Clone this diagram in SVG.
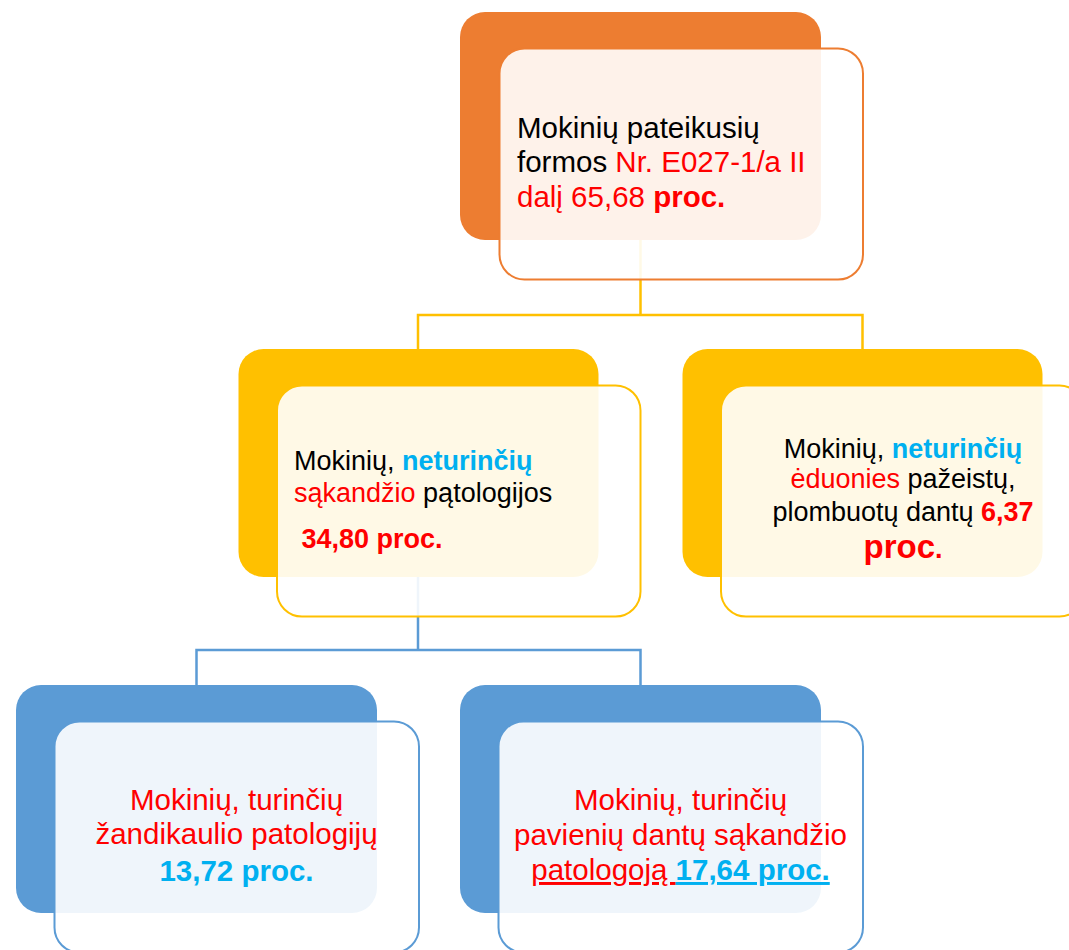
<svg xmlns="http://www.w3.org/2000/svg" width="1069" height="950" viewBox="0 0 1069 950">
<style>
text{font-family:"Liberation Sans",Arial,sans-serif;}
.t32{font-size:29.5px;}
.t29{font-size:27px;}
.k{fill:#000000;}
.r{fill:#FF0000;}
.b{fill:#00B0F0;}
.bd{font-weight:bold;}
.front{fill:#FFFFFF;fill-opacity:0.9;stroke-width:2;}
.con{fill:none;stroke-width:2.5;}
</style>
<rect width="1069" height="950" fill="#FFFFFF"/>
<g id="connectors">
<polyline class="con" stroke="#FFC000" points="640.5,200 640.5,315"/>
<polyline class="con" stroke="#FFC000" points="418,349 418,315 862.5,315 862.5,349"/>
<polyline class="con" stroke="#5B9BD5" points="418,560 418,650"/>
<polyline class="con" stroke="#5B9BD5" points="196.5,685 196.5,650 640.5,650 640.5,685"/>
</g>
<g id="node-top">
<rect x="460" y="12" width="361" height="228" rx="25" fill="#ED7D31"/>
<rect class="front" x="499.5" y="48.5" width="363.5" height="231" rx="25" stroke="#ED7D31"/>
<text class="t32" x="517" y="137.5"><tspan class="k">Mokinių pateikusių</tspan></text>
<text class="t32" x="517" y="172"><tspan class="k">formos </tspan><tspan class="r">Nr. E027-1/a II</tspan></text>
<text class="t32" x="517" y="207"><tspan class="r">dalį 65,68 </tspan><tspan class="r bd">proc.</tspan></text>
</g>
<g id="node-mid-left">
<rect x="238.5" y="349" width="360" height="228" rx="25" fill="#FFC000"/>
<rect class="front" x="277" y="385.5" width="363.5" height="231" rx="25" stroke="#FFC000"/>
<text class="t29" x="294" y="470"><tspan class="k">Mokinių, </tspan><tspan class="b bd">neturinčių</tspan></text>
<text class="t29" x="294" y="502"><tspan class="r">sąkandžio</tspan><tspan class="k"> pątologijos</tspan></text>
<text class="t29 r bd" x="301.5" y="548">34,80 proc.</text>
</g>
<g id="node-mid-right">
<rect x="682.5" y="349" width="360" height="228" rx="25" fill="#FFC000"/>
<rect class="front" x="721" y="385.5" width="363.5" height="231" rx="25" stroke="#FFC000"/>
<text class="t29" x="903" y="458" text-anchor="middle"><tspan class="k">Mokinių, </tspan><tspan class="b bd">neturinčių</tspan></text>
<text class="t29" x="903" y="488" text-anchor="middle"><tspan class="r">ėduonies</tspan><tspan class="k"> pažeistų,</tspan></text>
<text class="t29" x="903" y="521" text-anchor="middle"><tspan class="k">plombuotų dantų </tspan><tspan class="r bd">6,37</tspan></text>
<text x="903" y="558" text-anchor="middle" class="r bd"><tspan style="font-size:33px">proc</tspan><tspan style="font-size:27px">.</tspan></text>
</g>
<g id="node-bottom-left">
<rect x="16" y="685" width="361" height="228" rx="25" fill="#5B9BD5"/>
<rect class="front" x="54.5" y="721.5" width="364.5" height="231" rx="25" stroke="#5B9BD5"/>
<text class="t32 r" x="236.5" y="810" text-anchor="middle">Mokinių, turinčių</text>
<text class="t32 r" x="236.5" y="844" text-anchor="middle">žandikaulio patologijų</text>
<text class="t32 b bd" x="236.5" y="881" text-anchor="middle">13,72 proc.</text>
</g>
<g id="node-bottom-right">
<rect x="460" y="685" width="361" height="228" rx="25" fill="#5B9BD5"/>
<rect class="front" x="498.5" y="721.5" width="364.5" height="231" rx="25" stroke="#5B9BD5"/>
<text class="t32 r" x="680.5" y="810" text-anchor="middle">Mokinių, turinčių</text>
<text class="t32 r" x="680.5" y="845" text-anchor="middle">pavienių dantų sąkandžio</text>
<text class="t32" x="680.5" y="880" text-anchor="middle" xml:space="preserve"><tspan class="r" text-decoration="underline">patologoją </tspan><tspan class="b bd" text-decoration="underline">17,64 proc.</tspan></text>
</g>
</svg>
